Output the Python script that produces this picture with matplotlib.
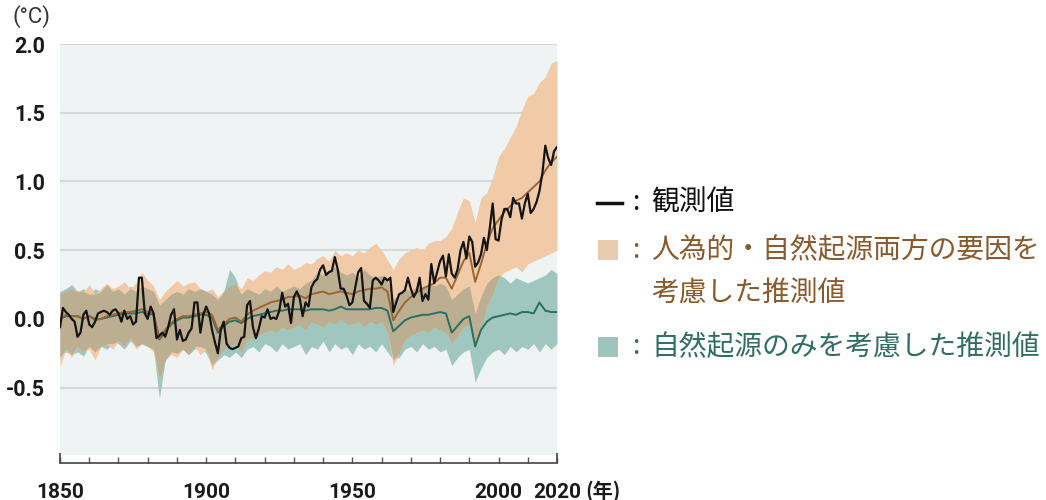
import numpy as np
import matplotlib
matplotlib.use("Agg")
import matplotlib.pyplot as plt

# ---------------- data ----------------
obs_years = list(range(1850, 2021))
observed = [
    -0.06, 0.08, 0.05, 0.03, 0.00, -0.02, -0.13, -0.10, 0.03, 0.06,
    -0.04, -0.06, -0.02, 0.04, 0.05, 0.06, 0.05, 0.03, 0.06, 0.07,
    0.04, -0.02, 0.06, 0.00, 0.02, -0.04, -0.02, 0.30, 0.30, 0.04,
    0.00, 0.09, 0.04, -0.14, -0.12, -0.10, -0.13, -0.06, 0.03, 0.07,
    -0.15, -0.08, -0.16, -0.15, -0.10, -0.07, 0.12, 0.12, -0.10, 0.03,
    0.09, 0.04, -0.08, -0.17, -0.25, -0.08, -0.02, -0.18, -0.21, -0.22,
    -0.21, -0.20, -0.14, -0.13, 0.10, 0.13, -0.06, -0.14, -0.07, 0.02,
    0.01, 0.07, 0.00, 0.01, 0.00, 0.06, 0.19, 0.09, 0.11, -0.03,
    0.16, 0.20, 0.15, 0.02, 0.12, 0.09, 0.23, 0.27, 0.29, 0.36,
    0.39, 0.32, 0.34, 0.35, 0.45, 0.36, 0.22, 0.22, 0.17, 0.10,
    0.12, 0.23, 0.34, 0.37, 0.13, 0.11, 0.08, 0.28, 0.30, 0.28,
    0.25, 0.30, 0.28, 0.30, 0.05, 0.12, 0.18, 0.19, 0.21, 0.30,
    0.22, 0.16, 0.20, 0.30, 0.13, 0.18, 0.14, 0.40, 0.26, 0.34,
    0.42, 0.46, 0.31, 0.47, 0.33, 0.30, 0.36, 0.50, 0.56, 0.44,
    0.60, 0.56, 0.38, 0.41, 0.47, 0.59, 0.50, 0.66, 0.84, 0.58,
    0.57, 0.72, 0.80, 0.80, 0.74, 0.88, 0.84, 0.84, 0.73, 0.84,
    0.91, 0.77, 0.80, 0.85, 0.93, 1.06, 1.26, 1.17, 1.12, 1.22,
    1.25,
]

model_years = list(range(1850, 2021, 2))

# human + natural simulations (mean, lower, upper)
hn_mean = [
    0.00, 0.03, 0.02, 0.02, 0.00, 0.02, -0.01, 0.00, 0.02, 0.03,
    0.04, 0.05, 0.05, 0.06, 0.07, 0.05, 0.04, -0.14, -0.08, -0.03,
    0.00, 0.02, 0.02, 0.03, 0.04, 0.05, 0.03, -0.08, -0.04, 0.00,
    0.01, -0.02, 0.03, 0.06, 0.08, 0.10, 0.12, 0.13, 0.14, 0.16,
    0.16, 0.17, 0.15, 0.18, 0.19, 0.20, 0.18, 0.19, 0.20, 0.19,
    0.18, 0.20, 0.21, 0.22, 0.22, 0.23, 0.20, -0.01, 0.06, 0.12,
    0.16, 0.19, 0.22, 0.24, 0.26, 0.30, 0.30, 0.22, 0.32, 0.42,
    0.48, 0.27, 0.40, 0.55, 0.66, 0.72, 0.78, 0.82, 0.86, 0.88,
    0.92, 0.96, 1.00, 1.08, 1.14, 1.18,
]
hn_lower = [
    -0.35, -0.22, -0.28, -0.20, -0.24, -0.22, -0.30, -0.20, -0.18, -0.22,
    -0.16, -0.20, -0.14, -0.22, -0.18, -0.20, -0.24, -0.44, -0.30, -0.26,
    -0.28, -0.22, -0.26, -0.20, -0.26, -0.22, -0.37, -0.28, -0.22, -0.20,
    -0.18, -0.24, -0.15, -0.14, -0.12, -0.10, -0.08, -0.10, -0.06, -0.08,
    -0.06, -0.04, -0.08, -0.02, -0.04, -0.06, -0.02, -0.04, 0.00, -0.04,
    -0.04, -0.02, -0.06, -0.02, -0.04, -0.02, -0.10, -0.34, -0.25, -0.15,
    -0.12, -0.10, -0.08, -0.10, -0.06, -0.08, -0.10, -0.18, -0.12, -0.06,
    -0.04, -0.20, -0.10, 0.10, 0.18, 0.30, 0.34, 0.36, 0.38, 0.34,
    0.40, 0.42, 0.44, 0.46, 0.48, 0.50,
]
hn_upper = [
    0.19, 0.20, 0.22, 0.21, 0.20, 0.25, 0.18, 0.22, 0.26, 0.22,
    0.24, 0.27, 0.22, 0.26, 0.34, 0.28, 0.24, 0.14, 0.20, 0.24,
    0.28, 0.24, 0.26, 0.27, 0.22, 0.20, 0.22, 0.16, 0.20, 0.24,
    0.26, 0.22, 0.30, 0.28, 0.32, 0.35, 0.34, 0.38, 0.36, 0.40,
    0.36, 0.38, 0.41, 0.40, 0.44, 0.46, 0.42, 0.50, 0.46, 0.48,
    0.46, 0.50, 0.48, 0.52, 0.55, 0.50, 0.43, 0.36, 0.44, 0.48,
    0.50, 0.52, 0.50, 0.55, 0.57, 0.57, 0.60, 0.66, 0.78, 0.88,
    0.86, 0.70, 0.88, 0.92, 1.03, 1.18, 1.24, 1.32, 1.40, 1.52,
    1.62, 1.64, 1.72, 1.76, 1.86, 1.88,
]

# natural-only simulations (mean, lower, upper)
nat_mean = [
    0.00, 0.02, 0.02, 0.02, 0.00, 0.02, 0.00, 0.00, 0.01, 0.02,
    0.03, 0.04, 0.04, 0.04, 0.05, 0.04, 0.03, -0.15, -0.09, -0.04,
    -0.01, 0.01, 0.01, 0.02, 0.03, 0.03, 0.01, -0.10, -0.05, -0.02,
    -0.01, -0.03, 0.00, 0.02, 0.03, 0.04, 0.05, 0.06, 0.06, 0.07,
    0.07, 0.07, 0.06, 0.07, 0.07, 0.07, 0.06, 0.07, 0.09, 0.07,
    0.07, 0.07, 0.07, 0.07, 0.08, 0.08, 0.06, -0.09, -0.05, -0.01,
    0.01, 0.02, 0.03, 0.03, 0.04, 0.05, 0.04, -0.10, -0.05, 0.00,
    0.02, -0.20, -0.08, -0.02, 0.01, 0.02, 0.03, 0.04, 0.03, 0.05,
    0.05, 0.04, 0.12, 0.06, 0.05, 0.05,
]
nat_lower = [
    -0.28, -0.24, -0.26, -0.24, -0.27, -0.20, -0.24, -0.20, -0.22, -0.18,
    -0.18, -0.22, -0.16, -0.20, -0.18, -0.20, -0.22, -0.58, -0.30, -0.24,
    -0.25, -0.22, -0.26, -0.22, -0.20, -0.25, -0.34, -0.30, -0.26, -0.28,
    -0.24, -0.28, -0.22, -0.20, -0.24, -0.18, -0.20, -0.24, -0.18, -0.22,
    -0.20, -0.18, -0.26, -0.20, -0.22, -0.16, -0.24, -0.18, -0.22, -0.20,
    -0.26, -0.18, -0.22, -0.20, -0.24, -0.18, -0.24, -0.30, -0.28, -0.22,
    -0.20, -0.24, -0.18, -0.22, -0.20, -0.24, -0.22, -0.34, -0.28, -0.24,
    -0.22, -0.46, -0.36, -0.28, -0.24, -0.22, -0.26, -0.20, -0.24, -0.20,
    -0.22, -0.18, -0.24, -0.18, -0.22, -0.18,
]
nat_upper = [
    0.20, 0.22, 0.25, 0.20, 0.22, 0.18, 0.22, 0.20, 0.25, 0.20,
    0.22, 0.18, 0.24, 0.20, 0.24, 0.22, 0.20, 0.10, 0.14, 0.18,
    0.20, 0.18, 0.22, 0.20, 0.22, 0.20, 0.18, 0.14, 0.20, 0.36,
    0.30, 0.18, 0.22, 0.20, 0.18, 0.22, 0.20, 0.24, 0.20, 0.22,
    0.24, 0.22, 0.26, 0.28, 0.34, 0.32, 0.36, 0.38, 0.34, 0.32,
    0.34, 0.30, 0.36, 0.32, 0.30, 0.32, 0.28, 0.14, 0.18, 0.22,
    0.20, 0.24, 0.22, 0.26, 0.24, 0.26, 0.24, 0.14, 0.18, 0.22,
    0.24, 0.04, 0.16, 0.26, 0.30, 0.32, 0.30, 0.26, 0.30, 0.28,
    0.26, 0.28, 0.30, 0.32, 0.36, 0.33,
]

y_ticks = [-0.5, 0.0, 0.5, 1.0, 1.5, 2.0]
y_ticklabels = ["-0.5", "0.0", "0.5", "1.0", "1.5", "2.0"]
x_label_years = [1850, 1900, 1950, 2000, 2020]

legend_labels = ["観測値", "人為的・自然起源両方の要因を", "考慮した推測値",
                 "自然起源のみを考慮した推測値"]

# ---------------- style ----------------
C_BG = "#eff3f3"
C_GRID = "#d3d8d8"
C_TAN = "#f1caa8"
C_TEAL = "#9fc7bf"
C_OVER = "#bcae90"
C_BROWN = "#9b6633"
C_DTEAL = "#2d6e63"
C_OBS = "#141414"
C_TXT_BROWN = "#8b5a2b"
C_TXT_TEAL = "#2f6f66"

FIG_W, FIG_H = 1046, 500
fig = plt.figure(figsize=(FIG_W / 100, FIG_H / 100), dpi=100)
ax = fig.add_axes([60 / FIG_W, 1 - 455 / FIG_H, 497 / FIG_W, 411 / FIG_H])
ax.set_facecolor(C_BG)

my = np.array(model_years, dtype=float)
hl, hu = np.array(hn_lower), np.array(hn_upper)
nl, nu = np.array(nat_lower), np.array(nat_upper)

ax.fill_between(my, nl, nu, color=C_TEAL, lw=0, zorder=2)
ax.fill_between(my, hl, hu, color=C_TAN, lw=0, zorder=3)
lo = np.maximum(hl, nl)
hi = np.minimum(hu, nu)
ax.fill_between(my, lo, hi, where=hi > lo, interpolate=True,
                color=C_OVER, lw=0, zorder=4)

ax.plot(my, nat_mean, color=C_DTEAL, lw=1.4, zorder=5)
ax.plot(my, hn_mean, color=C_BROWN, lw=1.4, zorder=6)
ax.plot(obs_years, observed, color=C_OBS, lw=1.6, zorder=7)

ax.set_xlim(1850, 2020)
ax.set_ylim(-0.99, 2.0)

# y axis
ax.set_yticks(y_ticks)
ax.set_yticklabels(y_ticklabels)
ax.yaxis.grid(True, color=C_GRID, lw=1.5, zorder=1)
ax.set_axisbelow(True)
ax.tick_params(axis="y", length=0, pad=11, labelsize=15.5, labelcolor="#1a1a1a")
for lab in ax.get_yticklabels():
    lab.set_fontfamily("Roboto")
    lab.set_fontweight("bold")

# x axis
for s in ["left", "right", "top"]:
    ax.spines[s].set_visible(False)
ax.spines["bottom"].set_position(("outward", 6))
ax.spines["bottom"].set_color("#444444")
ax.spines["bottom"].set_linewidth(1.2)
ax.xaxis.remove_overlapping_locs = False
ax.set_xticks(list(range(1850, 2021, 10)))
ax.set_xticklabels([str(y) if y in x_label_years else "" for y in range(1850, 2021, 10)])
ax.set_xticks([1850, 2020], minor=True)
ax.tick_params(axis="x", which="major", direction="in", length=4, width=1,
               color="#555555", pad=14, labelsize=15, labelcolor="#1a1a1a")
ax.tick_params(axis="x", which="minor", direction="in", length=7, width=1.2,
               color="#444444")
for lab in ax.get_xticklabels():
    lab.set_fontfamily("Roboto")
    lab.set_fontweight("bold")

# unit labels
fig.text(31 / FIG_W, 1 - 17 / FIG_H, "(°C)", ha="center", va="center",
         fontsize=16, color="#333333", family=["Roboto", "DejaVu Sans"])
fig.text(585 / FIG_W, 1 - 491 / FIG_H, "(年)", ha="left", va="center",
         fontsize=14.5, color="#1a1a1a", fontweight="bold",
         family=["Noto Sans CJK JP", "DejaVu Sans"])

# legend (manual)
JP = ["Noto Sans CJK JP", "DejaVu Sans"]
def px(x, y):
    return x / FIG_W, 1 - y / FIG_H

fig.add_artist(plt.Line2D([597 / FIG_W, 622 / FIG_W], [1 - 203 / FIG_H] * 2,
                          color="#111111", lw=2.5))
for yy, col in [(250, "#e9cbae"), (347, "#9fc4bb")]:
    fig.add_artist(plt.Rectangle(px(598, yy + 10), 20 / FIG_W, 20 / FIG_H,
                                 color=col, lw=0))

rows = [(203, legend_labels[0], "#111111", True),
        (250, legend_labels[1], C_TXT_BROWN, True),
        (294, legend_labels[2], C_TXT_BROWN, False),
        (347, legend_labels[3], C_TXT_TEAL, True)]
for yy, txt, col, colon in rows:
    if colon:
        fig.text(*px(636, yy), ":", ha="center", va="center", fontsize=19,
                 color=col, family=JP)
    fig.text(*px(651, yy), txt, ha="left", va="center", fontsize=20,
             color=col, family=JP)

fig.savefig("out.png", dpi=100)
